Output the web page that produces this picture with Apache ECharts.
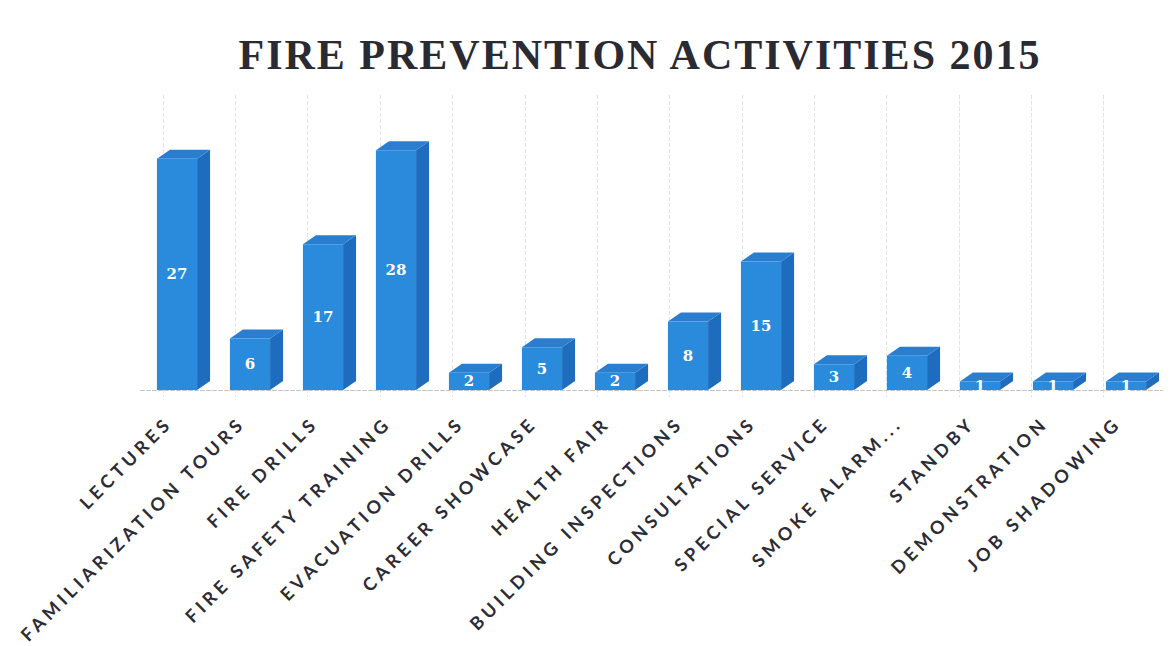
<!DOCTYPE html>
<html><head><meta charset="utf-8">
<script src="https://cdn.jsdelivr.net/npm/echarts@6/dist/echarts.min.js"></script>
<style>
html,body{margin:0;padding:0;background:#fff;}
#c{width:1176px;height:646px;}
#c text[style*="Lato"]{letter-spacing:4.3px;}
#c text[style*="Liberation Serif"]{letter-spacing:2px;}
</style></head><body><div id="c"></div>
<script>
const titleText = 'FIRE PREVENTION ACTIVITIES 2015';
const categories = ['LECTURES', 'FAMILIARIZATION TOURS', 'FIRE DRILLS', 'FIRE SAFETY TRAINING',
  'EVACUATION DRILLS', 'CAREER SHOWCASE', 'HEALTH FAIR', 'BUILDING INSPECTIONS', 'CONSULTATIONS',
  'SPECIAL SERVICE', 'SMOKE ALARM...', 'STANDBY', 'DEMONSTRATION', 'JOB SHADOWING'];
const values = [27, 6, 17, 28, 2, 5, 2, 8, 15, 3, 4, 1, 1, 1];

const FRONT = '#2a8bdd', SIDE = '#1d6cbe', TOP = '#2a7dcf';

function renderBox(params, api) {
  const i = api.value(0), v = api.value(1);
  const base = api.coord([i, 0]);
  const top = api.coord([i, v]);
  const w = api.size([1, 0])[0] * 0.55;
  const dx = 13, dy = 9;
  const xl = base[0] - w / 2, xr = base[0] + w / 2;
  const yb = base[1], yt = top[1];
  return {
    type: 'group',
    children: [
      { type: 'polygon', shape: { points: [[xr, yb], [xr + dx, yb - dy], [xr + dx, yt - dy], [xr, yt]] }, style: { fill: SIDE } },
      { type: 'polygon', shape: { points: [[xl, yt], [xl + dx, yt - dy], [xr + dx, yt - dy], [xr, yt]] }, style: { fill: TOP } },
      { type: 'rect', shape: { x: xl, y: yt, width: w, height: yb - yt }, style: { fill: FRONT } },
      { type: 'text', style: { text: String(v), x: (xl + xr) / 2, y: (yt + yb) / 2, fill: '#ffffff',
          fontSize: 15, fontWeight: 'bold', fontFamily: '"DejaVu Serif"', align: 'center', verticalAlign: 'middle' } }
    ]
  };
}

const chart = echarts.init(document.getElementById('c'), null, { renderer: 'svg' });
chart.setOption({
  backgroundColor: '#ffffff',
  animation: false,
  title: {
    text: titleText, left: 635, top: 29, textAlign: 'center',
    textStyle: { fontFamily: '"Liberation Serif"', fontWeight: 'bold', fontSize: 42, color: '#2a2a33' }
  },
  grid: [
    { left: 140.5, right: 13.5, top: 133, bottom: 256 },
    { left: 163, width: 1022, top: 95, bottom: 249 }
  ],
  xAxis: [
    { type: 'category', data: categories, gridIndex: 0, offset: 7,
      axisLine: { show: true, lineStyle: { color: '#c4c4c4', type: 'dashed', width: 1 } },
      axisTick: { show: false }, splitLine: { show: false },
      axisLabel: { interval: 0, rotate: 45, margin: 14, padding: [0, 12, 0, 0], color: '#2c2c36',
        fontFamily: 'Lato', fontWeight: 'bold', fontSize: 18 } },
    { type: 'category', data: categories, gridIndex: 1,
      axisLine: { show: false }, axisTick: { show: false }, axisLabel: { show: false },
      splitLine: { show: true, interval: 0, lineStyle: { color: '#e2e2e2', type: 'dashed', width: 1 } } }
  ],
  yAxis: [
    { type: 'value', gridIndex: 0, min: 0, max: 30, show: false },
    { type: 'value', gridIndex: 1, min: 0, max: 30, show: false }
  ],
  series: [{
    type: 'custom', xAxisIndex: 0, yAxisIndex: 0,
    renderItem: renderBox,
    data: values.map((v, i) => [i, v])
  }]
});
</script></body></html>
